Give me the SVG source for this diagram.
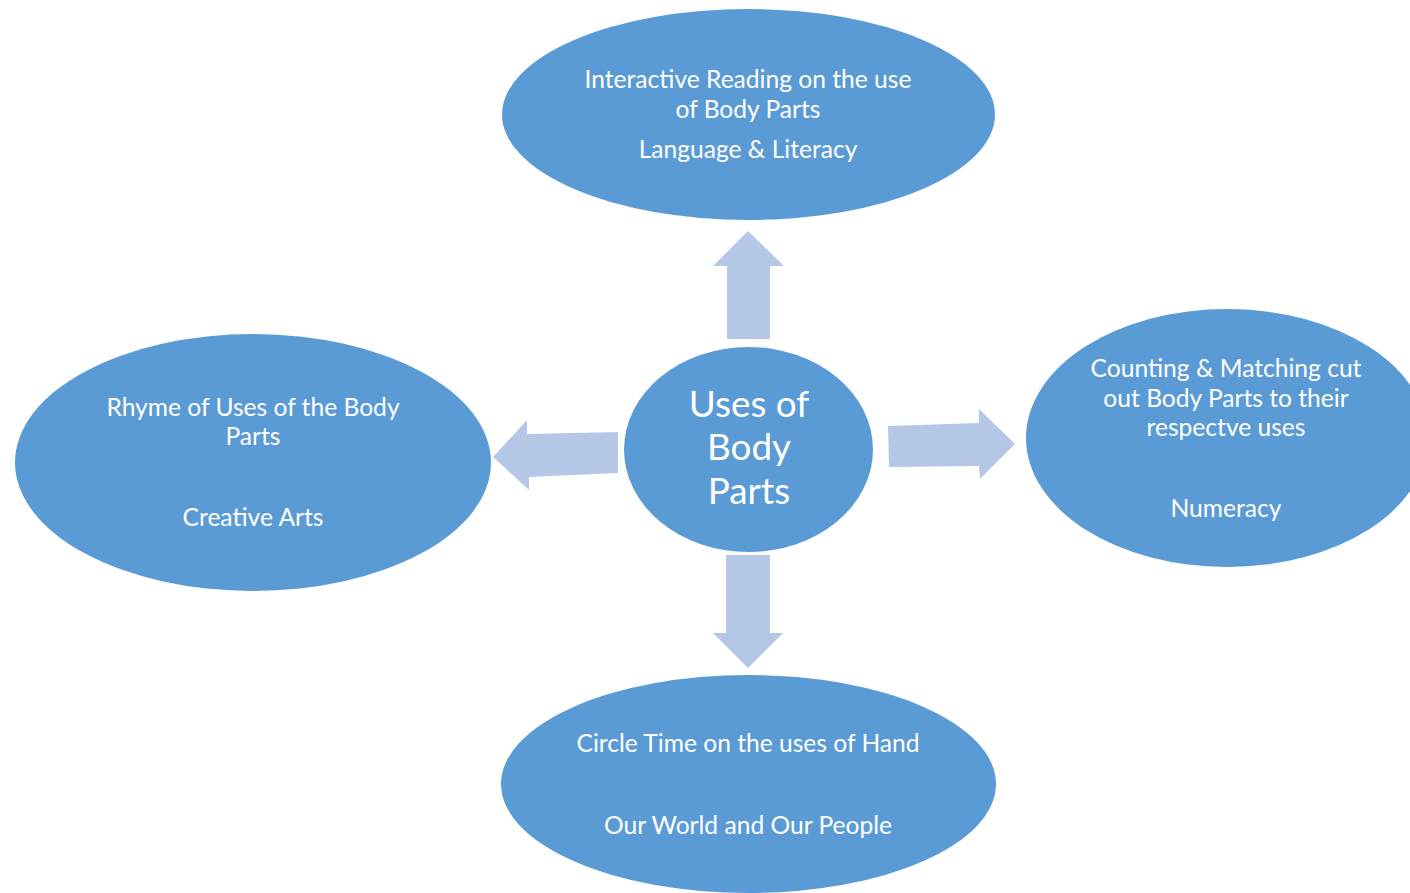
<svg xmlns="http://www.w3.org/2000/svg" width="1410" height="893" viewBox="0 0 1410 893">
<style>
.node{fill:#5B9BD5;}
.arrow{fill:#B4C7E7;}
.t{font-family:Lato,"Open Sans","Liberation Sans",sans-serif;font-size:24.6px;fill:#FFFFFF;text-anchor:middle;}
.big{font-size:36.8px;}
</style>
<rect width="1410" height="893" fill="#FFFFFF"/>
<g id="connectors">
<polygon class="arrow" points="748,231 784,266 770,266 770,339 727,339 727,266 713,266"/>
<polygon class="arrow" points="726,555 770,555 770,633 783,633 748,668 713,633 726,633"/>
<polygon class="arrow" points="493,457 527,420 527,434 618,432 618,473 529,477 529,490"/>
<polygon class="arrow" points="1015,444 980,479 979,466 889,467 888,426 979,423 979,409"/>
</g>
<g id="node-top">
<ellipse class="node" cx="748.5" cy="114.5" rx="246.5" ry="105.5"/>
<text class="t" x="748" y="88">Interactive Reading on the use</text>
<text class="t" x="748" y="118">of Body Parts</text>
<text class="t" x="748" y="158">Language &amp; Literacy</text>
</g>
<g id="node-left">
<ellipse class="node" cx="253" cy="462.5" rx="238" ry="128.5"/>
<text class="t" x="253" y="416">Rhyme of Uses of the Body</text>
<text class="t" x="253" y="445">Parts</text>
<text class="t" x="253" y="526">Creative Arts</text>
</g>
<g id="node-right">
<ellipse class="node" cx="1227" cy="438" rx="201" ry="129"/>
<text class="t" x="1226" y="377">Counting &amp; Matching cut</text>
<text class="t" x="1226" y="407">out Body Parts to their</text>
<text class="t" x="1226" y="436">respectve uses</text>
<text class="t" x="1226" y="517">Numeracy</text>
</g>
<g id="node-bottom">
<ellipse class="node" cx="748.5" cy="784" rx="247.5" ry="109"/>
<text class="t" x="748" y="752">Circle Time on the uses of Hand</text>
<text class="t" x="748" y="834">Our World and Our People</text>
</g>
<g id="node-center">
<ellipse class="node" cx="748.5" cy="449.5" rx="124.5" ry="102.5"/>
<text class="t big" x="749" y="417">Uses of</text>
<text class="t big" x="749" y="460">Body</text>
<text class="t big" x="749" y="504">Parts</text>
</g>
</svg>
